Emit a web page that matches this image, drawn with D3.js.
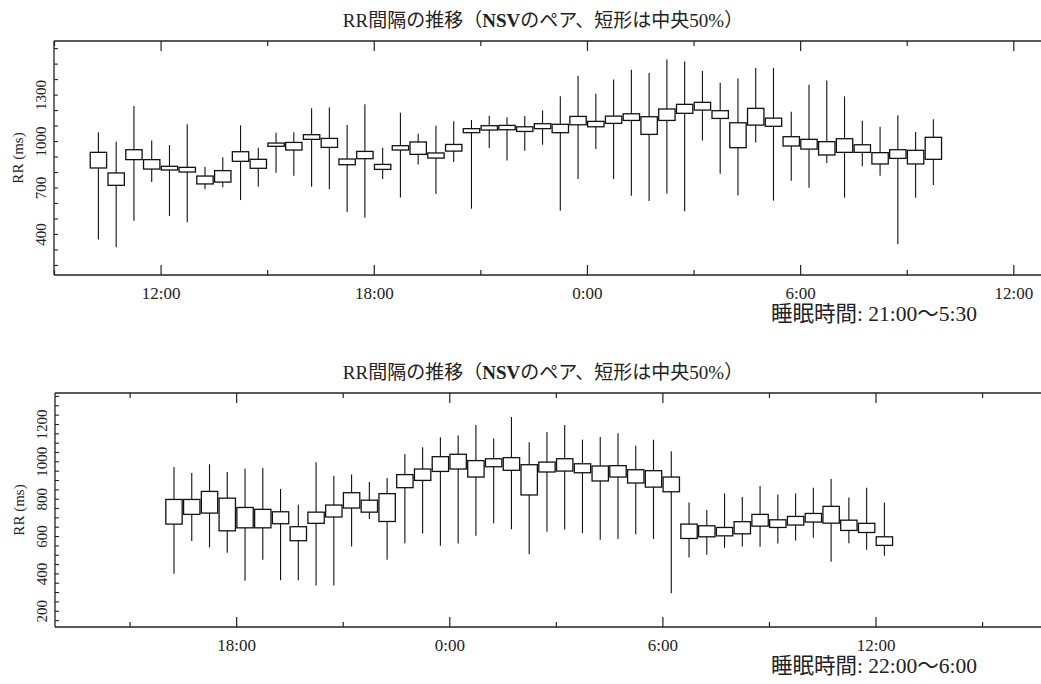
<!DOCTYPE html>
<html>
<head>
<meta charset="utf-8">
<script src="https://cdn.jsdelivr.net/npm/d3@7"></script>
<style>
  body { margin: 0; background: #fff; }
  text { font-family: 'Liberation Serif', 'Noto Sans CJK JP', serif; fill: #222; }
</style>
</head>
<body>
<svg id="chart" width="1041" height="684"></svg>
<script>
// --- upper chart: 30 min bins, sleep 21:00-5:30
const topBins = ["10:00","10:30","11:00","11:30","12:00","12:30","13:00","13:30","14:00","14:30","15:00","15:30",
  "16:00","16:30","17:00","17:30","18:00","18:30","19:00","19:30","20:00","20:30","21:00","21:30",
  "22:00","22:30","23:00","23:30","0:00","0:30","1:00","1:30","2:00","2:30","3:00","3:30",
  "4:00","4:30","5:00","5:30","6:00","6:30","7:00","7:30","8:00","8:30","9:00","9:30"]
const topQ3 = [927, 794, 944, 880, 837, 830, 774, 809, 931, 882, 987, 991, 1041, 1017, 884, 933, 849, 970, 994, 923, 978, 1080, 1099, 1101,
  1092, 1112, 1108, 1159, 1127, 1161, 1176, 1157, 1207, 1237, 1250, 1196, 1118, 1211, 1148, 1028, 1011, 996, 1015, 976, 925, 944, 940, 1024]
const topQ1 = [826, 714, 880, 819, 813, 800, 723, 735, 869, 824, 966, 942, 1011, 959, 847, 886, 817, 942, 914, 890, 935, 1054, 1071, 1073,
  1062, 1080, 1054, 1105, 1092, 1114, 1133, 1043, 1133, 1179, 1200, 1146, 957, 1103, 1095, 968, 948, 910, 927, 927, 852, 888, 852, 882]
const topMax = [1056, 996, 1226, 1004, 974, 1108, 834, 895, 1101, 957, 1054, 1056, 1211, 1217, 1103, 1237, 957, 1183, 1047, 1099, 1127, 1136, 1163, 1153,
  1161, 1198, 1290, 1422, 1305, 1398, 1460, 1439, 1527, 1514, 1452, 1376, 1404, 1471, 1473, 1189, 1364, 1391, 1288, 1131, 1092, 1166, 1058, 1140]
const topMin = [365, 314, 486, 735, 516, 475, 688, 701, 619, 705, 796, 776, 705, 688, 542, 505, 755, 636, 849, 658, 864, 563, 955, 875,
  938, 976, 550, 755, 948, 755, 647, 613, 662, 546, 1004, 789, 649, 991, 615, 744, 699, 858, 634, 837, 776, 333, 634, 716]
const topYLabels = [400, 700, 1000, 1300]

// --- lower chart: sleep 22:00-6:00
const botBins = ["16:00","16:30","17:00","17:30","18:00","18:30","19:00","19:30","20:00","20:30","21:00","21:30",
  "22:00","22:30","23:00","23:30","0:00","0:30","1:00","1:30","2:00","2:30","3:00","3:30",
  "4:00","4:30","5:00","5:30","6:00","6:30","7:00","7:30","8:00","8:30","9:00","9:30",
  "10:00","10:30","11:00","11:30","12:00"]
const botQ3 = [796, 796, 839, 803, 753, 743, 730, 650, 728, 766, 832, 792, 827, 929, 959, 1025, 1038, 1004, 1014, 1020, 982, 996, 1014, 987,
  975, 977, 955, 950, 916, 664, 655, 646, 677, 716, 687, 705, 721, 759, 685, 668, 596]
const botQ1 = [664, 716, 723, 628, 644, 644, 666, 575, 668, 702, 750, 728, 678, 859, 898, 946, 959, 916, 971, 952, 820, 943, 948, 939,
  895, 916, 884, 862, 837, 587, 596, 601, 612, 653, 646, 659, 675, 669, 630, 619, 550]
const botMax = [970, 937, 984, 943, 961, 964, 852, 768, 995, 923, 930, 889, 911, 1039, 1075, 1129, 1138, 1195, 1123, 1238, 1102, 1157, 1195, 1116,
  1130, 1150, 1084, 1116, 1054, 780, 739, 828, 809, 868, 823, 828, 859, 905, 807, 859, 780]
const botMin = [398, 573, 539, 510, 360, 473, 364, 364, 335, 335, 544, 691, 473, 562, 614, 548, 560, 601, 669, 637, 503, 623, 635, 616,
  580, 584, 609, 584, 294, 485, 500, 537, 544, 543, 560, 576, 591, 462, 562, 526, 494]
const botYLabels = [200, 400, 600, 800, 1000, 1200]

const svg = d3.select('#chart')

// "HH:MM" list -> continuous hours, rolling over midnight
function toHours (labels) {
  let offset = 0, prev = -Infinity
  return labels.map(s => {
    const [h, m] = s.split(':').map(Number)
    let t = h + m / 60 + offset
    if (t < prev) { offset += 24; t += 24 }
    prev = t
    return t
  })
}

function drawPanel (p) {
  const g = svg.append('g')
  const x = d3.scaleLinear().domain(p.xDomain).range([p.left, p.right])
  const y = d3.scaleLinear().domain(p.yDomain).range([p.bottom, p.top])
  const times = toHours(p.bins)
  const rows = times.map((t, i) => ({ t, q1: p.q1[i], q3: p.q3[i], lo: p.lo[i], hi: p.hi[i] }))

  // x ticks every 3h, labelled every 6h
  const hours = d3.range(Math.ceil(p.xDomain[0] / 3) * 3, p.xDomain[1], 3)
  const major = hours.filter(h => h % 6 === 0)
  const minor = hours.filter(h => h % 6 !== 0)
  const fmt = h => `${h % 24}:00`

  const axes = g.append('g').attr('color', '#222')
  const addX = (gen, ticks, size, yPos, labels) => {
    const a = axes.append('g')
      .attr('transform', `translate(0,${yPos})`)
      .call(gen(x).tickValues(ticks).tickSize(size).tickSizeOuter(0)
        .tickPadding(12).tickFormat(labels ? fmt : ''))
    a.select('.domain').remove()
    a.selectAll('line').attr('stroke-width', 1.2)
    a.selectAll('text').attr('font-size', 17).attr('font-family', null).attr('fill', '#222')
  }
  addX(d3.axisBottom, major, -10, p.bottom, true)
  addX(d3.axisBottom, minor, -5, p.bottom, false)
  addX(d3.axisTop, major, -10, p.top, false)
  addX(d3.axisTop, minor, -5, p.top, false)

  // y ticks
  const yTicks = d3.range(Math.ceil(p.yDomain[0] / p.yStep) * p.yStep, p.yDomain[1], p.yStep)
  const ya = axes.append('g')
    .attr('transform', `translate(${p.left},0)`)
    .call(d3.axisLeft(y).tickValues(yTicks).tickSize(-4).tickSizeOuter(0)
      .tickFormat(d => p.yLabels.includes(d) ? d : ''))
  ya.select('.domain').remove()
  ya.selectAll('line').attr('stroke-width', 1.1)
  ya.selectAll('text')
    .attr('x', null).attr('dy', null)
    .attr('text-anchor', 'middle')
    .attr('font-size', 15)
    .attr('fill', '#222')
    .attr('transform', 'translate(-8,0) rotate(-90)')

  // frame
  const frame = g.append('g').attr('stroke', '#222').attr('stroke-width', 1.3)
  frame.append('line').attr('x1', p.left).attr('x2', p.left).attr('y1', p.top).attr('y2', p.bottom)
  frame.append('line').attr('x1', p.left).attr('x2', p.right).attr('y1', p.top).attr('y2', p.top)
  frame.append('line').attr('x1', p.left).attr('x2', p.right).attr('y1', p.bottom).attr('y2', p.bottom)

  // whiskers then boxes
  g.append('g').selectAll('line')
    .data(rows)
    .join('line')
    .attr('x1', d => x(d.t + 0.25))
    .attr('x2', d => x(d.t + 0.25))
    .attr('y1', d => y(d.hi))
    .attr('y2', d => y(d.lo))
    .attr('stroke', '#111')
    .attr('stroke-width', 1.1)

  g.append('g').selectAll('rect')
    .data(rows)
    .join('rect')
    .attr('x', d => x(d.t) + 0.7)
    .attr('width', d => x(d.t + 0.5) - x(d.t) - 1.4)
    .attr('y', d => y(d.q3))
    .attr('height', d => y(d.q1) - y(d.q3))
    .attr('fill', '#fff')
    .attr('stroke', '#111')
    .attr('stroke-width', 1.3)

  // labels
  g.append('text')
    .attr('transform', `translate(${p.left - 31},${(p.top + p.bottom) / 2}) rotate(-90)`)
    .attr('text-anchor', 'middle')
    .attr('font-size', 15)
    .text('RR (ms)')

  const title = g.append('text')
    .attr('x', 543).attr('y', p.top - 14)
    .attr('text-anchor', 'middle')
    .attr('font-size', 19)
  title.append('tspan').text('RR間隔の推移（')
  title.append('tspan').attr('font-weight', 'bold').text('NSV')
  title.append('tspan').text('のペア、短形は中央50%）')

  g.append('text')
    .attr('x', 771).attr('y', p.bottom + 46)
    .attr('font-size', 21.5)
    .text(p.sleep)
}

drawPanel({
  left: 54, right: 1041, top: 41, bottom: 275,
  xDomain: [9, 9 + (1041 - 54) / 35.53],
  yDomain: [135, 1646], yStep: 100, yLabels: topYLabels,
  bins: topBins, q1: topQ1, q3: topQ3, lo: topMin, hi: topMax,
  sleep: '睡眠時間: 21:00～5:30'
})

drawPanel({
  left: 55, right: 1041, top: 393, bottom: 627,
  xDomain: [12.9, 12.9 + (1041 - 55) / 35.52],
  yDomain: [113, 1366], yStep: 50, yLabels: botYLabels,
  bins: botBins, q1: botQ1, q3: botQ3, lo: botMin, hi: botMax,
  sleep: '睡眠時間: 22:00～6:00'
})
</script>
</body>
</html>
